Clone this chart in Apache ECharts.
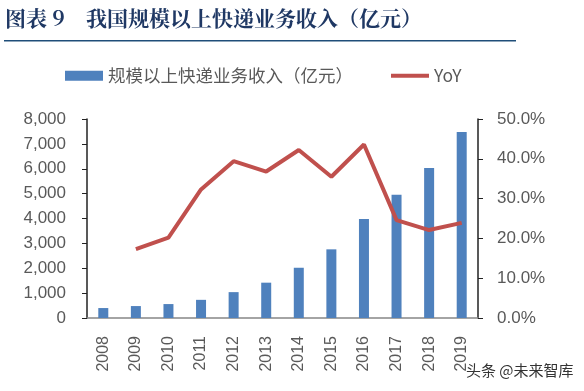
<!DOCTYPE html>
<html><head><meta charset="utf-8">
<script src="https://cdn.jsdelivr.net/npm/echarts@6/dist/echarts.min.js"></script>
<style>html,body{margin:0;padding:0;background:#fff}#c{width:584px;height:391px}</style>
</head><body><div id="c"></div>
<script>
const titleLabel = '图表 9';
const titleText = '我国规模以上快递业务收入（亿元）';
const years = ['2008','2009','2010','2011','2012','2013','2014','2015','2016','2017','2018','2019'];
const revenue = [400, 480, 560, 730, 1040, 1420, 2020, 2760, 3975, 4955, 6035, 7480];
const yoy = [null, 17.3, 20.2, 32.3, 39.4, 36.8, 42.2, 35.5, 43.6, 24.6, 22.1, 23.9];
const revenueName = '规模以上快递业务收入（亿元）';
const yoyName = 'YoY';
const watermark = '头条 @未来智库';

const chart = echarts.init(document.getElementById('c'), null, {renderer:'canvas'});
const numFont = '"Liberation Sans",Arial,sans-serif';
const tfont = 'bold 21px "Noto Serif CJK SC","Noto Sans CJK SC",serif';
chart.setOption({
  animation:false,
  textStyle:{fontFamily:'"Noto Sans CJK SC",sans-serif'},
  graphic:[
    {type:'text', left:5, top:8, style:{text:titleLabel, fill:'#1f3864', font:tfont}},
    {type:'text', left:86, top:8, style:{text:titleText, fill:'#1f3864', font:tfont}},
    {type:'rect', shape:{x:4,y:40,width:512,height:1.5}, style:{fill:'#1f4e79'}},
    {type:'text', left:466, top:363, style:{text:watermark, fill:'#333', font:'15px "Noto Sans CJK SC",sans-serif'}}
  ],
  legend:{
    top:62, left:60, itemGap:38, itemWidth:38, itemHeight:10,
    textStyle:{fontSize:17.5, color:'#595959', fontFamily:'"Noto Sans CJK SC",sans-serif'},
    data:[{name:revenueName, icon:'rect'}, {name:yoyName, icon:'path://M0,0 L40,0 L40,4 L0,4 Z', itemStyle:{color:'#c0504d'}}]
  },
  grid:{left:87, right:106, top:119, bottom:73},
  xAxis:{
    type:'category', data:years, boundaryGap:true,
    axisLine:{lineStyle:{color:'#868686', width:1.5}},
    axisTick:{show:false},
    axisLabel:{rotate:90, color:'#595959', fontSize:16, margin:18, fontFamily:numFont}
  },
  yAxis:[
    {type:'value', min:0, max:8000, interval:1000,
     axisLine:{show:true, lineStyle:{color:'#222', width:1.5}},
     axisTick:{show:true, inside:false, length:5, lineStyle:{color:'#222'}},
     splitLine:{show:false},
     axisLabel:{color:'#595959', fontSize:17, margin:21, fontFamily:numFont,
       formatter:v=>v.toLocaleString('en-US')}},
    {type:'value', min:0, max:50, interval:10,
     axisLine:{show:true, lineStyle:{color:'#222', width:1.5}},
     axisTick:{show:true, inside:false, length:5, lineStyle:{color:'#222'}},
     splitLine:{show:false},
     axisLabel:{color:'#595959', fontSize:17, margin:19, fontFamily:numFont,
       formatter:v=>v.toFixed(1)+'%'}}
  ],
  series:[
    {name:revenueName, type:'bar', data:revenue, barWidth:10, itemStyle:{color:'#4f81bd'}},
    {name:yoyName, type:'line', yAxisIndex:1, data:yoy, symbol:'none', connectNulls:false,
     lineStyle:{color:'#c0504d', width:4}, itemStyle:{color:'#c0504d'}}
  ]
});
</script></body></html>
